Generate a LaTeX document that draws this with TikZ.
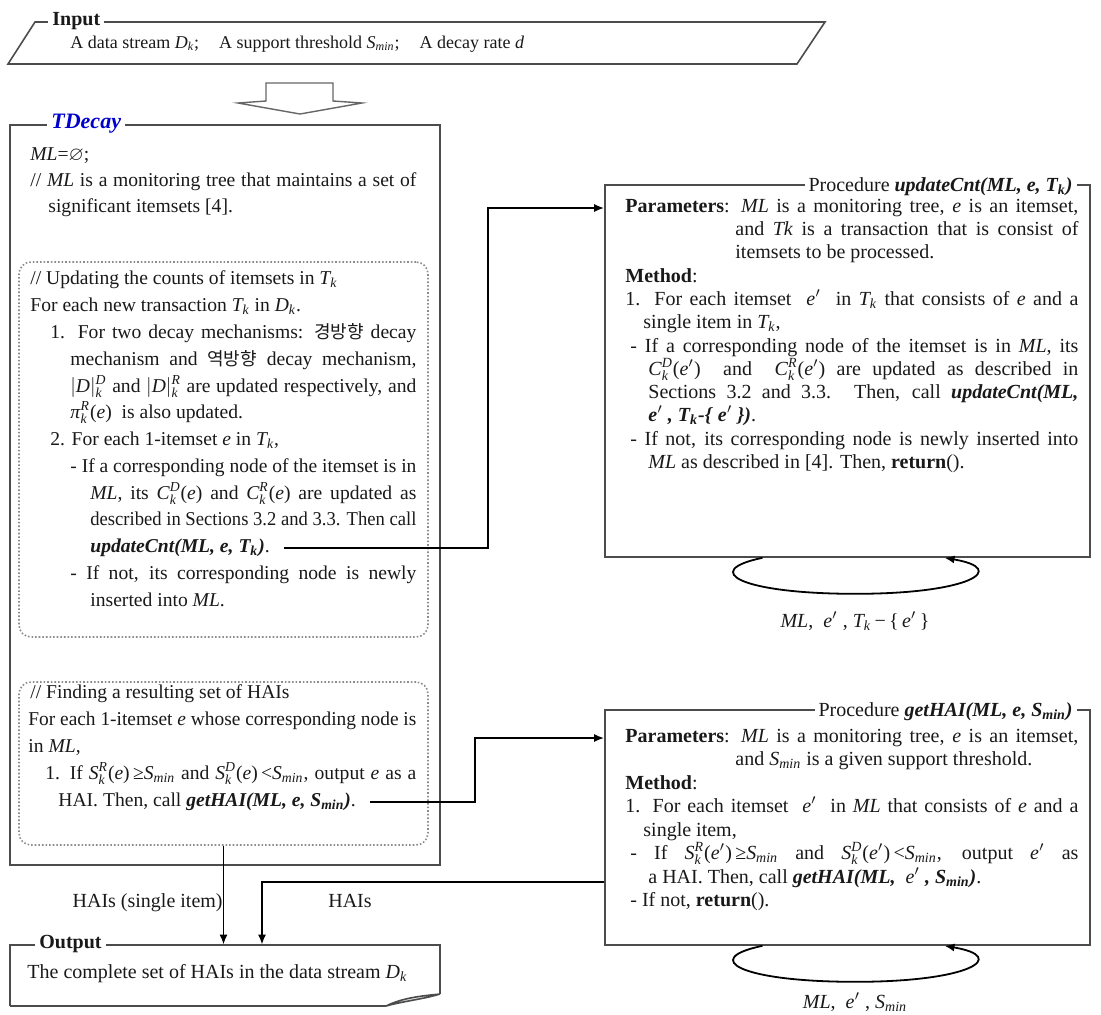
\documentclass[tikz,border=0pt]{standalone}
\usepackage{fontspec}
\setmainfont{Liberation Serif}
\newfontfamily\kr{Noto Sans CJK KR}
\usepackage{amssymb}
\usepackage{graphicx}
\usetikzlibrary{fit,calc,arrows.meta}
\newlength\jlw
\newcommand\jl[2]{\settowidth{\jlw}{#2}\ifdim\jlw>#1\relax\resizebox{#1}{\height}{#2}\else\makebox[#1][s]{#2}\fi}
\newcommand\bi[1]{\textbf{\textit{#1}}}
\newcommand\ML{\textit{ML}}
\newcommand\vi[1]{\ensuremath{\mathit{#1}}}
\newcommand\Xb[2]{\ensuremath{\mathit{#1}_{\mathit{#2}}}}
\newcommand\Xs[3]{\ensuremath{\mathit{#1}_{\mathit{#3}}^{\mathit{#2}}}}
\newcommand\smin{\ensuremath{\mathit{S}_{\mathit{min}}}}
\begin{document}
\begin{tikzpicture}[x=0.5pt,y=-0.5pt,
  frame/.style={draw=black!70, line width=0.8pt},
  dbox/.style={draw=black!45, densely dotted, line width=0.8pt, rounded corners=6pt},
  txt/.style={anchor=base west, inner sep=0pt, text=black!90, font=\fontsize{10}{12}\selectfont},
  ltxt/.style={txt, font=\fontsize{9.8}{12}\selectfont},
  ttl/.style={fill=white, inner sep=2pt, text=black!90, font=\fontsize{10}{12}\selectfont},
  arr/.style={draw=black, line width=0.9pt, -{Latex[length=5pt,width=4pt]}},
  ]
\useasboundingbox (0,0) rectangle (1101,1014);

% ---------- Input ----------
\draw[frame] (35,22) -- (825,22) -- (797,64) -- (8,64) -- cycle;
\node[ttl, anchor=base west, font=\bfseries\fontsize{10}{12}\selectfont] (inT) at (48,25) {Input};
\node[txt, font=\fontsize{9}{11}\selectfont] (inx) at (70,48) {A data stream \Xb{D}{k};\hspace{10pt}A support threshold \smin;\hspace{10pt}A decay rate \vi{d}};

% hollow block arrow
\draw[black!60, line width=0.7pt, fill=white] (266,83) -- (333,83) -- (333,101) -- (362,103) -- (300,114) -- (238,103) -- (266,101) -- cycle;

% ---------- right column boxes ----------
\node[frame, fit={(605,185) (1090,557)}, inner sep=0pt] (uc) {};
\node[ttl, anchor=base east] (uct) at (1077,191) {Procedure \bi{updateCnt(ML, e, T\textsubscript{k})}};
\node[txt] (p1) at (625,212) {\jl{226.5pt}{\textbf{Parameters}: \ML{} is a monitoring tree, \vi{e} is an itemset,}};
\node[txt] (p2) at (735,235) {\jl{171.5pt}{and \textit{Tk} is a transaction that is consist of}};
\node[txt] (p3) at (735,258) {itemsets to be processed.};
\node[txt] (p4) at (625,282) {\textbf{Method}:};
\node[txt] (p5) at (625,305) {\jl{226.5pt}{1. For each itemset \ \vi{e'} \ in \Xb{T}{k} that consists of \vi{e} and a}};
\node[txt] (p6) at (643,328) {single item in \Xb{T}{k},};
\node[txt] (p7) at (630,352) {\jl{224pt}{- If a corresponding node of the itemset is in \ML, its}};
\node[txt] (p8) at (648,375) {\jl{215pt}{\Xs{C}{D}{k}(\vi{e'}) \ and \ \Xs{C}{R}{k}(\vi{e'}) are updated as described in}};
\node[txt] (p9) at (648,398) {\jl{215pt}{Sections 3.2 and 3.3. Then, call \bi{updateCnt(ML,}}};
\node[txt] (p10) at (648,421) {\bi{e}$'$ \bi{, T\textsubscript{k}-\{} \bi{e}$'$ \bi{\})}.};
\node[txt] (p11) at (630,445) {\jl{224pt}{- If not, its corresponding node is newly inserted into}};
\node[txt] (p12) at (648,468) {\ML{} as described in [4]. Then, \textbf{return}().};

\node[frame, fit={(605,710) (1090,945)}, inner sep=0pt] (gh) {};
\node[ttl, anchor=base east] (ght) at (1077,716) {Procedure \bi{getHAI(ML, e, S\textsubscript{min})}};
\node[txt] (q1) at (625,742) {\jl{226.5pt}{\textbf{Parameters}: \ML{} is a monitoring tree, \vi{e} is an itemset,}};
\node[txt] (q2) at (735,765) {and \smin{} is a given support threshold.};
\node[txt] (q3) at (625,789) {\textbf{Method}:};
\node[txt] (q4) at (625,812) {\jl{226.5pt}{1. For each itemset \ \vi{e'} \ in \ML{} that consists of \vi{e} and a}};
\node[txt] (q5) at (643,836) {single item,};
\node[txt] (q6) at (630,859) {\jl{224pt}{- If \Xs{S}{R}{k}(\vi{e'})\,≥\smin{} and \Xs{S}{D}{k}(\vi{e'})\,<\smin, output \vi{e'} as}};
\node[txt] (q7) at (648,883) {a HAI. Then, call \bi{getHAI(ML,} \ \vi{e'} \bi{, S\textsubscript{min})}.};
\node[txt] (q8) at (630,906) {- If not, \textbf{return}().};

% ---------- TDecay ----------
\node[frame, fit={(10,125) (440,865)}, inner sep=0pt] (td) {};
\node[ttl, anchor=base west, text=blue!80!black, font=\bfseries\itshape\fontsize{11}{13}\selectfont] (tdt) at (47,128) {TDecay};
\node[ltxt] (t1) at (30,160) {\ML=$\varnothing$;};
\node[ltxt] (t2) at (30,186) {\jl{193pt}{// \ML{} is a monitoring tree that maintains a set of}};
\node[ltxt] (t3) at (48,212) {significant itemsets [4].};

\node[dbox, fit={(19,262) (428,637)}, inner sep=0pt] (b1) {};
\node[ltxt] (u1) at (30,284) {// Updating the counts of itemsets in \Xb{T}{k}};
\node[ltxt] (u2) at (30,311) {For each new transaction \Xb{T}{k} in \Xb{D}{k}.};
\node[ltxt] (u3) at (50,338) {\jl{183pt}{1. For two decay mechanisms: {\kr\fontsize{9}{11}\selectfont 경방향} decay}};
\node[ltxt] (u4) at (70,365) {\jl{173pt}{mechanism and {\kr\fontsize{9}{11}\selectfont 역방향} decay mechanism,}};
\node[ltxt] (u5) at (70,392) {\jl{173pt}{$|\mathit{D}|_{\mathit{k}}^{\mathit{D}}$ and $|\mathit{D}|_{\mathit{k}}^{\mathit{R}}$ are updated respectively, and}};
\node[ltxt] (u6) at (70,418) {\textit{π}\Xs{}{R}{k}(\vi{e}) \ is also updated.};
\node[ltxt] (u7) at (50,445) {2. For each 1-itemset \vi{e} in \Xb{T}{k},};
\node[ltxt] (u8) at (70,472) {\jl{173pt}{- If a corresponding node of the itemset is in}};
\node[ltxt] (u9) at (90,499) {\jl{163pt}{\ML, its \Xs{C}{D}{k}(\vi{e}) and \Xs{C}{R}{k}(\vi{e}) are updated as}};
\node[ltxt] (u10) at (90,525) {\jl{163pt}{described in Sections 3.2 and 3.3. Then call}};
\node[ltxt] (u11) at (90,552) {\bi{updateCnt(ML, e, T\textsubscript{k})}.};
\node[ltxt] (u12) at (70,579) {\jl{173pt}{- If not, its corresponding node is newly}};
\node[ltxt] (u13) at (90,606) {inserted into \ML.};

\node[dbox, fit={(19,682) (428,845)}, inner sep=0pt] (b2) {};
\node[ltxt] (g1) at (30,698) {// Finding a resulting set of HAIs};
\node[ltxt] (g2) at (28,725) {\jl{194pt}{For each 1-itemset \vi{e} whose corresponding node is}};
\node[ltxt] (g3) at (28,752) {in \ML,};
\node[ltxt] (g4) at (45,779) {\jl{185.5pt}{1. If \Xs{S}{R}{k}(\vi{e})\,≥\smin{} and \Xs{S}{D}{k}(\vi{e})\,<\smin, output \vi{e} as a}};
\node[ltxt] (g5) at (58,806) {HAI. Then, call \bi{getHAI(ML, e, S\textsubscript{min})}.};

% ---------- Output ----------
\node[fit={(10,945) (440,1006)}, inner sep=0pt] (out) {};
\draw[frame] (10,1006) -- (10,945) -- (440,945) -- (440,994);
\draw[frame] (10,1006) -- (386,1006);
\draw[frame, fill=black!8] (386,1006) .. controls (402,998) and (420,996) .. (440,994) .. controls (424,999) and (404,1001) .. (386,1006);
\node[ttl, anchor=base west, font=\bfseries\fontsize{10}{12}\selectfont] (ot) at (35,948) {Output};
\node[txt] (otx) at (27,978) {The complete set of HAIs in the data stream \Xb{D}{k}};

% ---------- connectors ----------
\coordinate (c1) at ($(u11.base east)+(14,-4)$);
\coordinate (k1) at (488,208);
\draw[arr] (c1) -| (k1) -- (k1 -| uc.west);

\coordinate (c2) at ($(g5.base east)+(14,-4)$);
\coordinate (k2) at (475,738);
\draw[arr] (c2) -| (k2) -- (k2 -| gh.west);

\draw[arr] (b2.south) -- (b2.south |- out.north);
\coordinate (k3) at (262,882);
\draw[arr] (k3 -| gh.west) -- (k3) -- (k3 |- out.north);
\node[txt, anchor=base east] (h1) at (223,907) {HAIs (single item)};
\node[txt, anchor=base] (h2) at (350,907) {HAIs};

% recursion loops
\coordinate (l1s) at ($(uc.south)+(-85,0)$);
\coordinate (l1e) at ($(uc.south)+(97,0)$);
\coordinate (l1b) at ($(uc.south)+(8,36)$);
\draw[arr] (l1s) .. controls +(-63,13) and +(-115,0) .. (l1b) .. controls +(115,0) and +(65,11) .. (l1e);
\node[txt, anchor=base] (lab1) at (855,627) {\ML, \ \vi{e'} , \Xb{T}{k}\,−\,\{\,\vi{e'}\,\}};

\coordinate (l2s) at ($(gh.south)+(-85,0)$);
\coordinate (l2e) at ($(gh.south)+(97,0)$);
\coordinate (l2b) at ($(gh.south)+(8,36)$);
\draw[arr] (l2s) .. controls +(-63,13) and +(-115,0) .. (l2b) .. controls +(115,0) and +(65,11) .. (l2e);
\node[txt, anchor=base] (lab2) at (855,1008) {\ML, \ \vi{e'} , \smin};
\end{tikzpicture}
\end{document}
